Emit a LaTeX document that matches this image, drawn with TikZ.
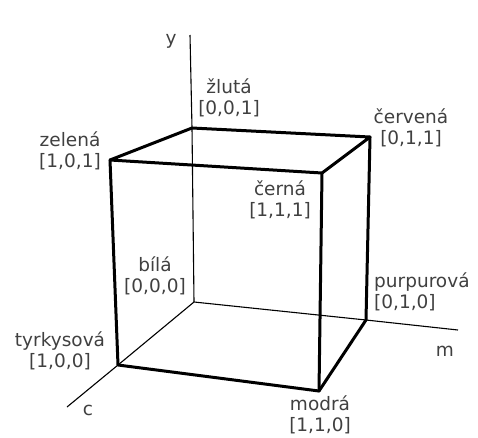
\documentclass[tikz,border=0pt]{standalone}
\usepackage{fontspec}
\setmainfont{DejaVu Sans}
\begin{document}
\begin{tikzpicture}[x=1pt, y=-1pt,
		hrana/.style={line width=3pt, line join=round, line cap=round},
		osa/.style={line width=1.1pt},
		popis/.style={text=black!75, align=center, inner sep=0pt, font=\fontsize{18.5}{21}\selectfont}]
		\useasboundingbox (0,0) rectangle (478,437);
		% vrcholy krychle
		\coordinate (zluta) at (192,128);
		\coordinate (zelena) at (110,160);
		\coordinate (cervena) at (370,137);
		\coordinate (cerna) at (322,173);
		\coordinate (bila) at (194,302);
		\coordinate (tyrkysova) at (118,365);
		\coordinate (purpurova) at (366,320);
		\coordinate (modra) at (319,391);
		% konce os
		\coordinate (ykonec) at (190,35);
		\coordinate (mkonec) at (458,330);
		\coordinate (ckonec) at (67,407);
		% osy
		\draw [osa] (ykonec) -- (zluta) -- (bila);
		\draw [osa] (ckonec) -- (tyrkysova) -- (bila) -- (purpurova) -- (mkonec);
		% hrany
		\draw [hrana] (zelena) -- (zluta) -- (cervena) -- (cerna) -- cycle;
		\draw [hrana] (zelena) -- (tyrkysova) -- (modra) -- (purpurova) -- (cervena);
		\draw [hrana] (cerna) -- (modra);
		% popisky
		\node [popis] (py) at (171,41) {y};
		\node [popis] (pm) at (445,351) {m};
		\node [popis] (pc) at (88,410) {c};
		\node [popis] (pzluta) at (229,98) {žlutá\\{}[0,0,1]};
		\node [popis] (pzelena) at (70,151) {zelená\\{}[1,0,1]};
		\node [popis] (pcervena) at (411,128) {červená\\{}[0,1,1]};
		\node [popis] (pcerna) at (280,200) {černá\\{}[1,1,1]};
		\node [popis] (pbila) at (155,276) {bílá\\{}[0,0,0]};
		\node [popis] (ptyrkysova) at (60,351) {tyrkysová\\{}[1,0,0]};
		\node [popis, align=left, anchor=west] (ppurpurova) at (374,292) {purpurová\\{}[0,1,0]};
		\node [popis] (pmodra) at (320,415) {modrá\\{}[1,1,0]};
	\end{tikzpicture}
\end{document}
